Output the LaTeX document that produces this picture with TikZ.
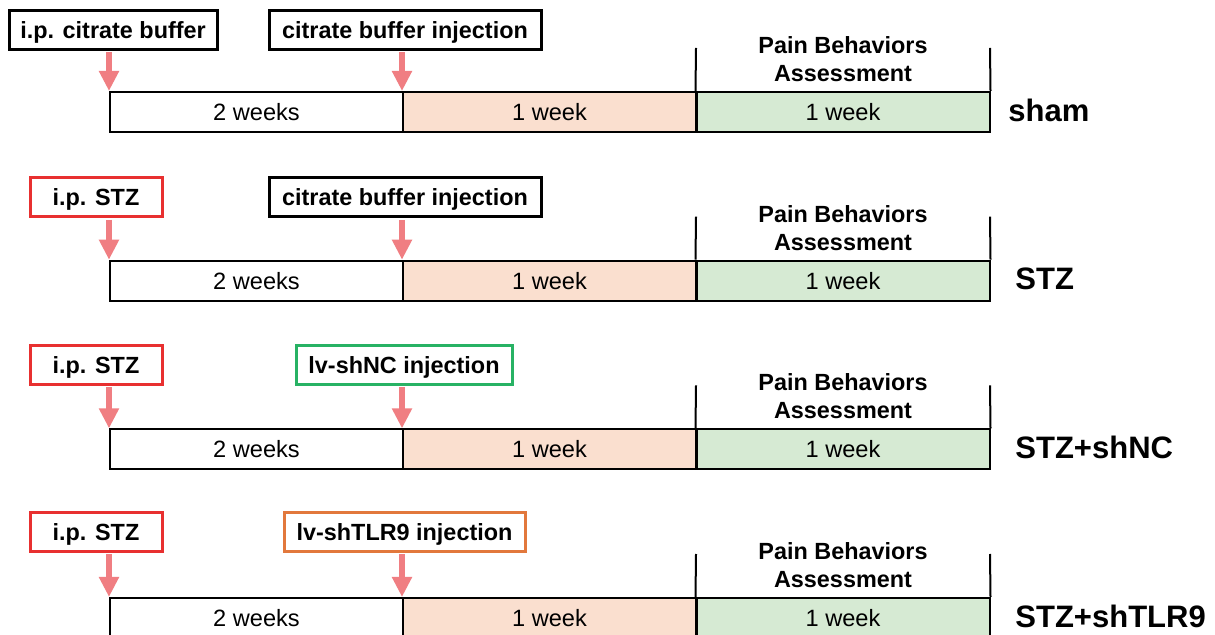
\documentclass[tikz,border=0pt]{standalone}
\usepackage{fontspec}
\setmainfont{Liberation Sans}
\usetikzlibrary{arrows.meta}
\definecolor{arrowpink}{RGB}{240,126,130}
\definecolor{peach}{RGB}{250,223,207}
\definecolor{mint}{RGB}{214,234,211}
\definecolor{boxred}{RGB}{232,48,48}
\definecolor{boxgreen}{RGB}{40,178,100}
\definecolor{boxorange}{RGB}{226,120,60}
\begin{document}
\begin{tikzpicture}[x=0.5pt,y=-0.5pt,
  lab/.style={draw=#1, line width=1.5pt, fill=white, minimum height=19.5pt, inner sep=0pt,
    text height=8.4pt, text depth=0pt, font=\fontsize{11.7}{14}\selectfont\bfseries, text=black},
  seg/.style={draw=black, line width=1pt, fill=#1, minimum width=146.5pt, minimum height=20pt,
    inner sep=0pt, text height=8.4pt, text depth=0pt, font=\fontsize{11.8}{14}\selectfont},
  inj/.style={draw=arrowpink, line width=3pt, -{Triangle[width=9.5pt,length=10pt]}},
  tick/.style={draw=black, line width=1pt},
  pain/.style={align=center, inner sep=0pt, font=\fontsize{11.7}{14}\selectfont\bfseries},
  grplab/.style={anchor=west, inner sep=0pt, font=\fontsize{15.5}{18}\selectfont\bfseries}
]
\clip (0,0) rectangle (1215,635);
\fill[white] (0,0) rectangle (1215,635);
\foreach \n/\dy/\ya/\ta/\ca/\xa/\wa/\tb/\cb/\xb/\wb/\grp/\xg in {
  1/0/30/i.p. citrate buffer/black/113/208/citrate buffer injection/black/405/272/sham/1008,
  2/168.7/197.5/i.p. STZ/boxred/96/132/citrate buffer injection/black/405/272/STZ/1015,
  3/337.4/365/i.p. STZ/boxred/96/132/lv-shNC injection/boxgreen/404/216/STZ+shNC/1015,
  4/506/532/i.p. STZ/boxred/96/132/lv-shTLR9 injection/boxorange/404.5/241/STZ+shTLR9/1015}{
  \node[seg=white] (w\n) at (256.5,112+\dy) {2 weeks};
  \node[seg=peach] (p\n) at (549.5,112+\dy) {1 week};
  \node[seg=mint] (g\n) at (843,112+\dy) {1 week};
  \node[lab=\ca, minimum width=\wa*0.5pt] (a\n) at (\xa,\ya) {\ta};
  \node[lab=\cb, minimum width=\wb*0.5pt] (b\n) at (\xb,\ya) {\tb};
  \draw[inj] ([yshift=-0.75pt]a\n.south -| w\n.north west) -- (w\n.north west);
  \draw[inj] ([yshift=-0.75pt]b\n.south -| p\n.north west) -- (p\n.north west);
  \coordinate (s\n) at (696,48+\dy);
  \coordinate (e\n) at (990,48+\dy);
  \draw[tick] (s\n) -- (g\n.north west);
  \draw[tick] (e\n) -- (g\n.north east);
  \node[pain] (pb\n) at (843,59+\dy) {Pain Behaviors\\Assessment};
  \node[grplab] (gl\n) at (\xg,110.5+\dy) {\grp};
}
\end{tikzpicture}
\end{document}
